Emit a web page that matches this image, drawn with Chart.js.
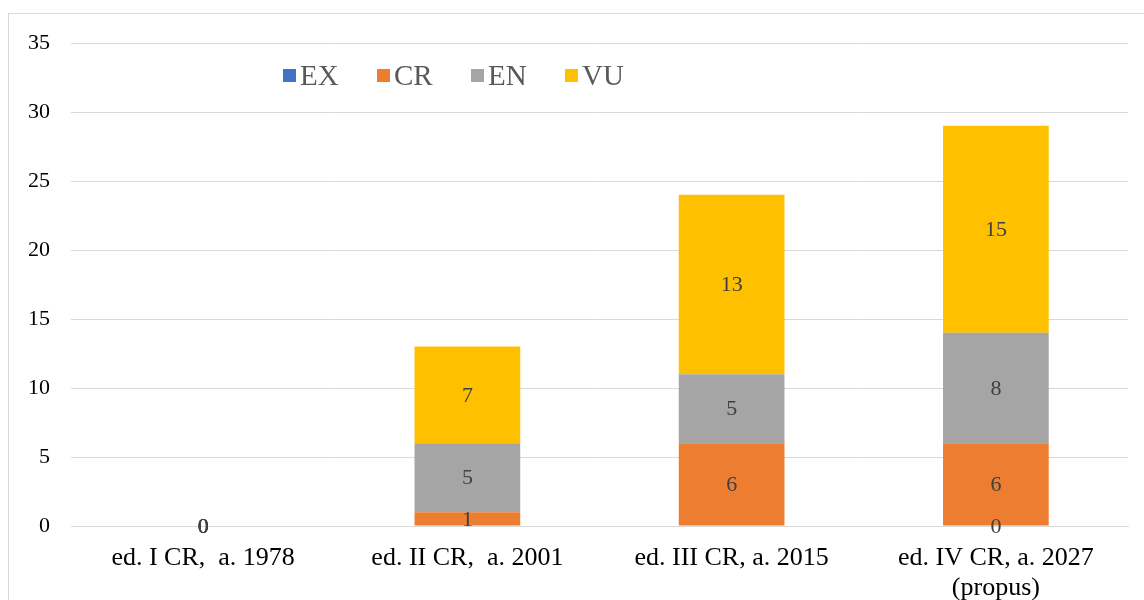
<!DOCTYPE html>
<html>
<head>
<meta charset="utf-8">
<script src="https://cdn.jsdelivr.net/npm/chart.js@4/dist/chart.umd.min.js"></script>
<style>
  body { margin: 0; background: #fff; overflow: hidden; }
  #frame { position: absolute; left: 8px; top: 13px; width: 1200px; height: 700px; border: 1px solid #d9d9d9; }
  #wrap { position: absolute; left: 0; top: 0; width: 1135px; height: 586px; }
  #legend { position: absolute; left: 274px; top: 45px; display: flex; font-family: "Liberation Serif", "Times New Roman", serif; font-size: 29px; color: #595959; }
  #legend div { display: flex; align-items: center; width: 94px; }
  #legend span.box { display: inline-block; width: 13px; height: 13px; margin-right: 4px; }
</style>
</head>
<body>
<div id="frame">
  <div id="wrap"><canvas id="chart"></canvas></div>
  <div id="legend"></div>
</div>
<script>
const categories = [
  "ed. I CR,  a. 1978",
  "ed. II CR,  a. 2001",
  "ed. III CR, a. 2015",
  ["ed. IV CR, a. 2027", "(propus)"]
];
const seriesNames = ["EX", "CR", "EN", "VU"];
const seriesColors = ["#4472c4", "#ed7d31", "#a5a5a5", "#ffc000"];
const exValues = [0, null, null, 0];
const crValues = [0, 1, 6, 6];
const enValues = [0, 5, 5, 8];
const vuValues = [0, 7, 13, 15];
const yTicks = [0, 5, 10, 15, 20, 25, 30, 35];

const serif = "'Liberation Serif', 'Times New Roman', serif";

// html legend
const legendEl = document.querySelector("#legend");
legendEl.innerHTML = seriesNames
  .map((n, i) => `<div><span class="box" style="background:${seriesColors[i]}"></span>${n}</div>`)
  .join("");

const valueLabels = {
  id: "valueLabels",
  afterDatasetsDraw(chart) {
    const ctx = chart.ctx;
    ctx.save();
    ctx.font = "22px " + serif;
    ctx.fillStyle = "#404040";
    ctx.textAlign = "center";
    ctx.textBaseline = "middle";
    chart.data.datasets.forEach((ds, di) => {
      chart.getDatasetMeta(di).data.forEach((bar, i) => {
        const v = ds.data[i];
        if (v === null || v === undefined) return;
        const { x, y, base } = bar.getProps(["x", "y", "base"], true);
        ctx.fillText(String(v), x, (y + base) / 2 + 1);
      });
    });
    ctx.restore();
  }
};

const allValues = [exValues, crValues, enValues, vuValues];

new Chart(document.querySelector("#chart").getContext("2d"), {
  type: "bar",
  data: {
    labels: categories,
    datasets: seriesNames.map((n, i) => ({
      label: n,
      data: allValues[i],
      backgroundColor: seriesColors[i],
      barPercentage: 0.4,
      categoryPercentage: 1
    }))
  },
  options: {
    responsive: true,
    maintainAspectRatio: false,
    animation: false,
    layout: { padding: { top: 29, right: 16, left: 0, bottom: 0 } },
    plugins: {
      legend: { display: false },
      tooltip: { enabled: false }
    },
    scales: {
      x: {
        stacked: true,
        grid: { display: false, drawTicks: false },
        border: { display: true, color: "#d9d9d9" },
        ticks: {
          color: "#000",
          font: { family: serif, size: 26, lineHeight: 1.12 },
          padding: 18,
          maxRotation: 0
        },
        afterFit(scale) { scale.height = 74; }
      },
      y: {
        stacked: true,
        min: 0,
        max: 35,
        afterBuildTicks(scale) { scale.ticks = yTicks.map(v => ({ value: v })); },
        grid: { color: "#d9d9d9", drawTicks: true, tickLength: 19, tickColor: "rgba(0,0,0,0)" },
        border: { display: false },
        ticks: {
          color: "#000",
          font: { family: serif, size: 22 },
          padding: 2
        },
        afterFit(scale) { scale.width = 62; }
      }
    }
  },
  plugins: [valueLabels]
});
</script>
</body>
</html>
